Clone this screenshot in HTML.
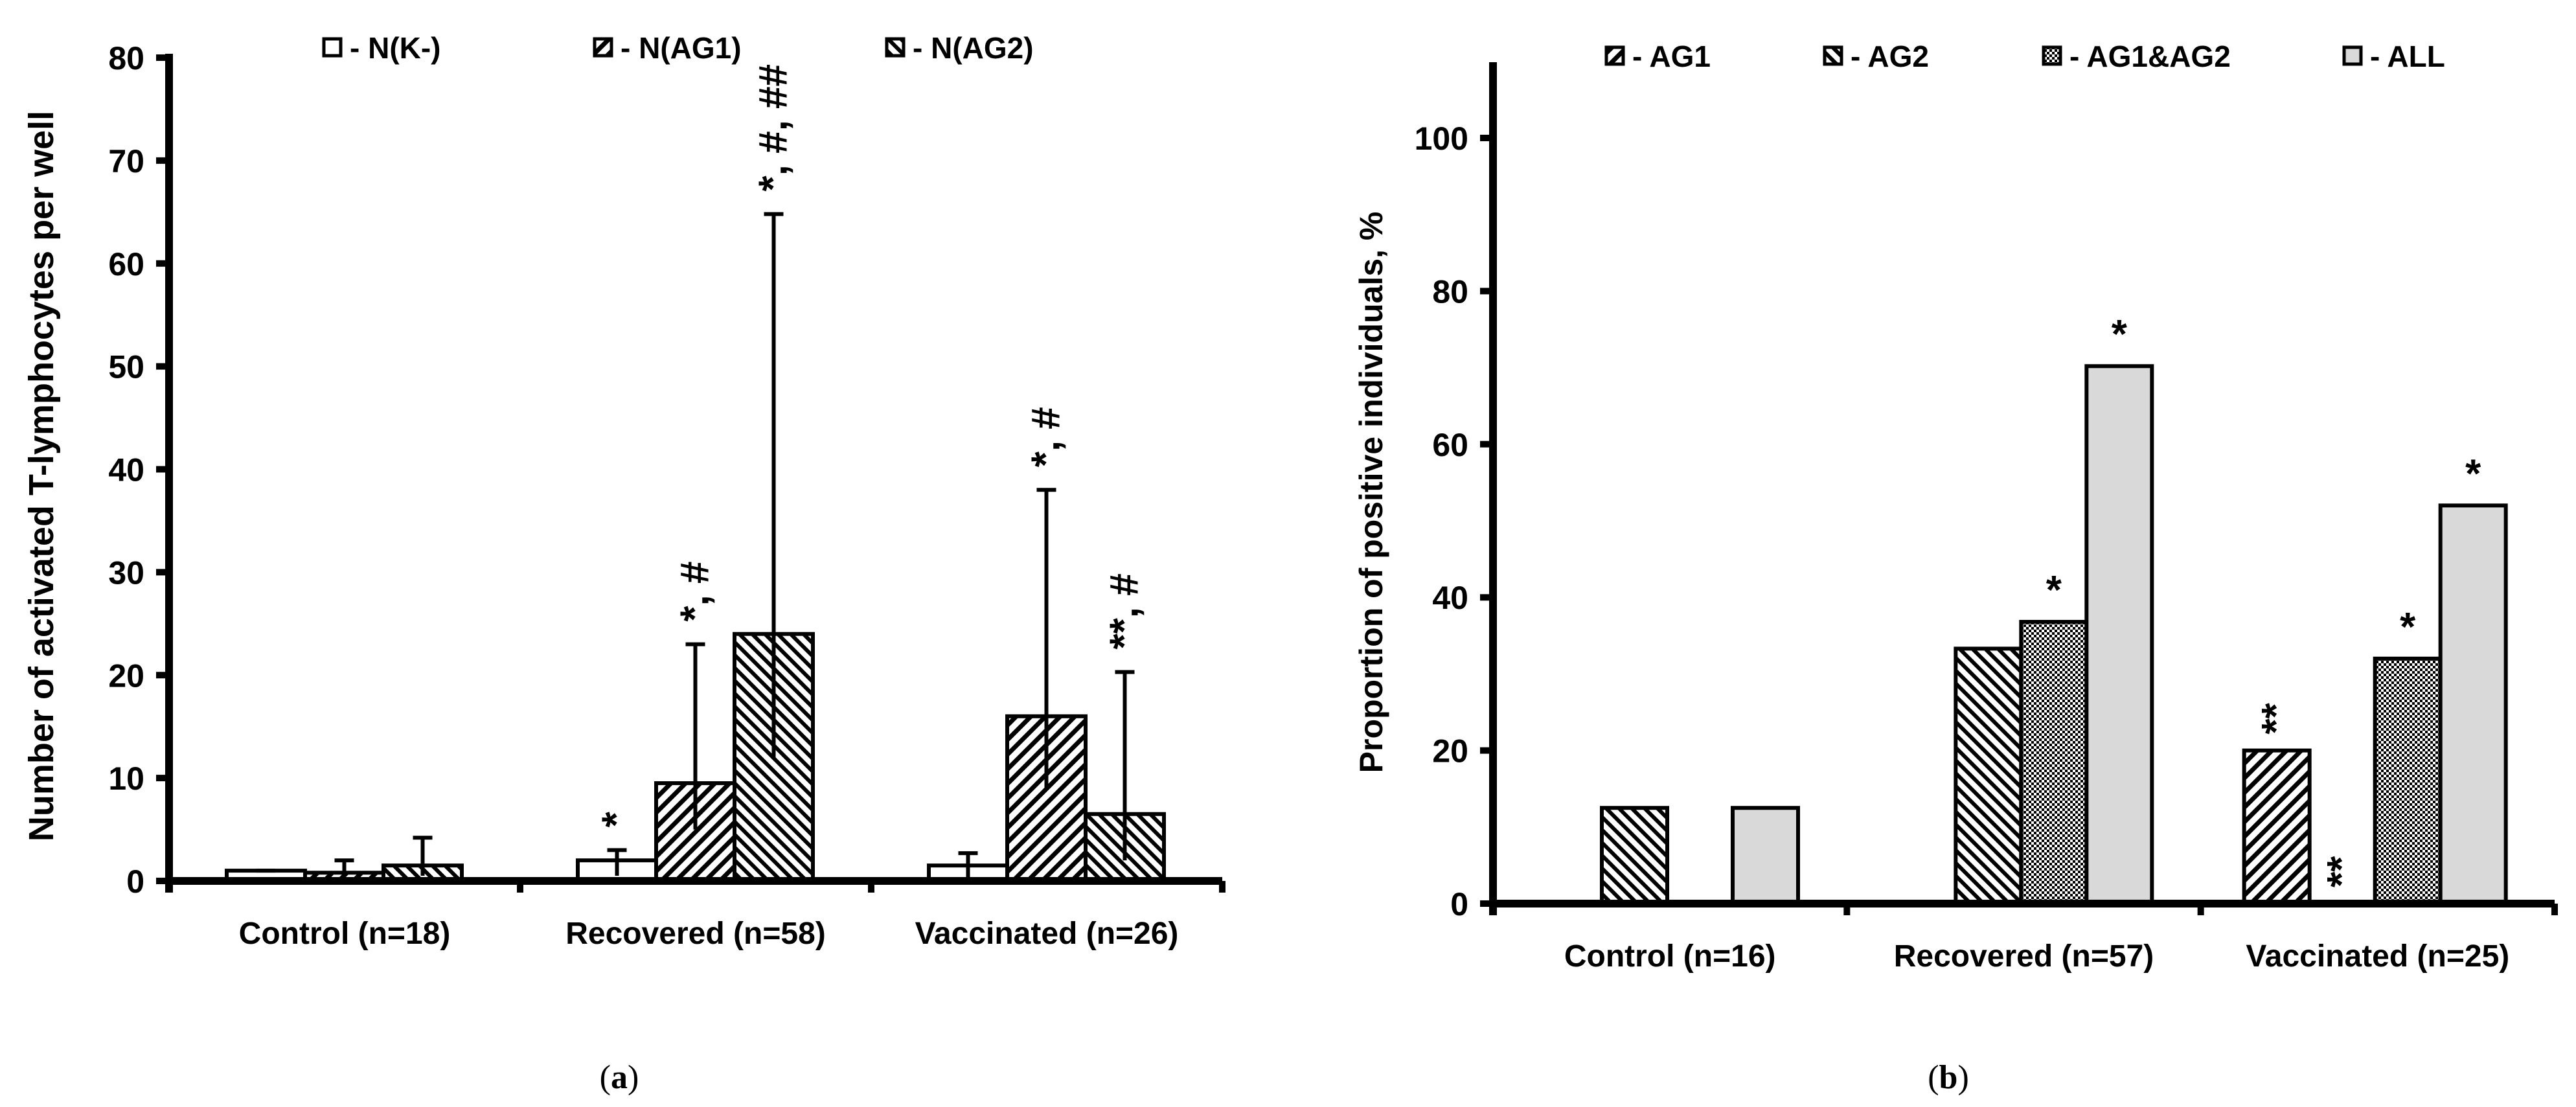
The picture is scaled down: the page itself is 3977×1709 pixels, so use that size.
<!DOCTYPE html>
<html><head><meta charset="utf-8">
<style>
html,body{margin:0;padding:0;background:#fff;}
svg{display:block;}
text{font-family:"Liberation Sans Narrow","Liberation Sans",sans-serif;font-weight:bold;fill:#000;}
.serif{font-family:"Liberation Serif",serif;font-weight:normal;}
</style></head>
<body>
<svg id="fig" width="3977" height="1709" viewBox="0 0 3977 1709" xmlns="http://www.w3.org/2000/svg">
<defs>
<pattern id="pFwd" patternUnits="userSpaceOnUse" width="16" height="16" patternTransform="rotate(45)"><rect width="16" height="16" fill="#fff"/><rect width="7" height="16" fill="#000"/></pattern>
<pattern id="pBack" patternUnits="userSpaceOnUse" width="14" height="14" patternTransform="rotate(-45)"><rect width="14" height="14" fill="#fff"/><rect width="6" height="14" fill="#000"/></pattern>
<pattern id="pCheck" patternUnits="userSpaceOnUse" width="8" height="8"><rect width="8" height="8" fill="#fff"/><rect width="4" height="4" fill="#000"/><rect x="4" y="4" width="4" height="4" fill="#000"/></pattern>
</defs>
<g id="chartA"></g>
<g id="chartB"></g>
<text class="serif" x="956" y="1680" font-size="52" text-anchor="middle">(<tspan font-weight="bold">a</tspan>)</text>
<text class="serif" x="3008" y="1680" font-size="52" text-anchor="middle">(<tspan font-weight="bold">b</tspan>)</text>
</svg>
<script>
// ---- Chart A data ----
const catsA = ["Control (n=18)", "Recovered (n=58)", "Vaccinated (n=26)"];
const seriesA = ["- N(K-)", "- N(AG1)", "- N(AG2)"];
const valsK = [1, 2, 1.5];
const valsAG1a = [0.8, 9.5, 16];
const valsAG2a = [1.5, 24, 6.5];
const errHiK = [1, 3, 2.7];
const errHiAG1a = [2, 23, 38];
const errHiAG2a = [4.2, 64.8, 20.3];
const errLoK = [1, 0.5, 0.3];
const errLoAG1a = [0.5, 5, 9];
const errLoAG2a = [0.5, 12, 2];
const annotK = ["", "*", ""];
const annotAG1a = ["", "*, #", "*, #"];
const annotAG2a = ["", "*, #, ##", "**, #"];
const ticksA = [0, 10, 20, 30, 40, 50, 60, 70, 80];

// ---- Chart B data ----
const catsB = ["Control (n=16)", "Recovered (n=57)", "Vaccinated (n=25)"];
const seriesB = ["- AG1", "- AG2", "- AG1&AG2", "- ALL"];
const valsAG1b = [0, 0, 20];
const valsAG2b = [12.5, 33.3, 0];
const valsBoth = [0, 36.8, 32];
const valsAll = [12.5, 70.2, 52];
const annotAG1b = ["", "", "**"];
const annotAG2b = ["", "", "**"];
const annotBoth = ["", "*", "*"];
const annotAll = ["", "*", "*"];
const ticksB = [0, 20, 40, 60, 80, 100];

const NS = "http://www.w3.org/2000/svg";
function mk(parent, tag, attrs, txt){
  const e = document.createElementNS(NS, tag);
  for (const k in attrs) e.setAttribute(k, attrs[k]);
  if (txt !== undefined) e.textContent = txt;
  parent.appendChild(e);
  return e;
}

// ===== Chart A =====
(function(){
  const g = document.getElementById('chartA');
  const x0 = 261, x1 = 1887, yBase = 1360, yTop = 89, vMax = 80;
  const y = v => yBase - (v / vMax) * (yBase - yTop);
  const catW = (x1 - x0) / catsA.length;
  const barW = 121, off = 89;
  const fills = ["#fff", "url(#pFwd)", "url(#pBack)"];
  const vals = [valsK, valsAG1a, valsAG2a];
  const hi = [errHiK, errHiAG1a, errHiAG2a];
  const lo = [errLoK, errLoAG1a, errLoAG2a];
  const ann = [annotK, annotAG1a, annotAG2a];
  let e = mk(g, 'line', {x1: x0, y1: yTop - 6, x2: x0, y2: yBase + 18, stroke: '#000', 'stroke-width': 12});
  
  
  ticksA.forEach(t => {
    const tl = mk(g, 'line', {x1: x0 - 20, y1: y(t), x2: x0, y2: y(t), stroke: '#000', 'stroke-width': 10});
    
    
    const tx = mk(g, 'text', {x: x0 - 38, y: y(t) + 18, 'font-size': 50, 'text-anchor': 'end'}, String(t));
    
    
  });
  catsA.forEach((c, i) => {
    const cx = x0 + catW * i;
    for (let s = 0; s < 3; s++) {
      const bx = cx + off + barW * s;
      const v = vals[s][i];
      const r = mk(g, 'rect', {x: bx, y: y(v), width: barW, height: yBase - y(v), fill: fills[s], stroke: '#000', 'stroke-width': 6});
      
      
      const mx = bx + barW / 2;
      const eb = mk(g, 'path', {d: `M${mx},${y(hi[s][i])}V${y(lo[s][i])}M${mx - 15},${y(hi[s][i])}H${mx + 15}`, stroke: '#000', 'stroke-width': 6, fill: 'none'});
      
      
      if (ann[s][i]) {
        const ay = y(hi[s][i]) - 35;
        const at = mk(g, 'text', {x: 0, y: 0, 'font-size': 62, 'text-anchor': 'start', transform: `translate(${mx + 20},${ay}) rotate(-90)`}, ann[s][i]);
        
        
      }
    }
    const lb = mk(g, 'text', {x: cx + catW / 2, y: 1457, 'font-size': 48, 'text-anchor': 'middle'}, c);
    
    
  });
  e = mk(g, 'line', {x1: x0 - 6, y1: yBase, x2: x1, y2: yBase, stroke: '#000', 'stroke-width': 12});
  
  
  for (let i = 0; i <= catsA.length; i++) {
    const tk = mk(g, 'line', {x1: x0 + catW * i, y1: yBase, x2: x0 + catW * i, y2: yBase + 18, stroke: '#000', 'stroke-width': 10});
    
    
  }
  const yt = mk(g, 'text', {x: 0, y: 0, 'font-size': 54, 'text-anchor': 'middle', transform: 'translate(82,735) rotate(-90)'}, 'Number of activated T-lymphocytes per well');
  
  
  const legX = [500, 918, 1369];
  seriesA.forEach((s, i) => {
    const sq = mk(g, 'rect', {x: legX[i], y: 60, width: 26, height: 26, fill: fills[i], stroke: '#000', 'stroke-width': 5});
    
    
    const lt = mk(g, 'text', {x: legX[i] + 40, y: 90, 'font-size': 46}, s);
    
    
  });
})();

// ===== Chart B =====
(function(){
  const g = document.getElementById('chartB');
  const x0 = 2305, x1 = 3944, yBase = 1395, vMax = 100, yAt100 = 213, yTop = 96;
  const y = v => yBase - (v / vMax) * (yBase - yAt100);
  const catW = (x1 - x0) / catsB.length;
  const barW = 101, off = 67;
  const fills = ["url(#pFwd)", "url(#pBack)", "url(#pCheck)", "#d9d9d9"];
  const vals = [valsAG1b, valsAG2b, valsBoth, valsAll];
  const ann = [annotAG1b, annotAG2b, annotBoth, annotAll];
  let e = mk(g, 'line', {x1: x0, y1: yTop, x2: x0, y2: yBase + 18, stroke: '#000', 'stroke-width': 12});
  
  
  ticksB.forEach(t => {
    const tl = mk(g, 'line', {x1: x0 - 20, y1: y(t), x2: x0, y2: y(t), stroke: '#000', 'stroke-width': 10});
    
    
    const tx = mk(g, 'text', {x: x0 - 38, y: y(t) + 18, 'font-size': 50, 'text-anchor': 'end'}, String(t));
    
    
  });
  catsB.forEach((c, i) => {
    const cx = x0 + catW * i;
    for (let s = 0; s < 4; s++) {
      const bx = cx + off + barW * s;
      const v = vals[s][i];
      const mx = bx + barW / 2;
      if (v > 0) {
        const r = mk(g, 'rect', {x: bx, y: y(v), width: barW, height: yBase - y(v), fill: fills[s], stroke: '#000', 'stroke-width': 6});
        
        
      }
      if (ann[s][i]) {
        let at;
        if (ann[s][i] === '**') {
          at = mk(g, 'text', {x: 0, y: 0, 'font-size': 62, 'text-anchor': 'start', transform: `translate(${mx + 20},${y(v) - 25}) rotate(-90)`}, ann[s][i]);
        } else {
          at = mk(g, 'text', {x: mx, y: y(v) - 28, 'font-size': 62, 'text-anchor': 'middle'}, ann[s][i]);
        }
        
        
      }
    }
    const lb = mk(g, 'text', {x: cx + catW / 2, y: 1492, 'font-size': 48, 'text-anchor': 'middle'}, c);
    
    
  });
  e = mk(g, 'line', {x1: x0 - 6, y1: yBase, x2: x1, y2: yBase, stroke: '#000', 'stroke-width': 12});
  
  
  for (let i = 0; i <= catsB.length; i++) {
    const tk = mk(g, 'line', {x1: x0 + catW * i, y1: yBase, x2: x0 + catW * i, y2: yBase + 18, stroke: '#000', 'stroke-width': 10});
    
    
  }
  const yt = mk(g, 'text', {x: 0, y: 0, 'font-size': 50, 'text-anchor': 'middle', transform: 'translate(2134,760) rotate(-90)'}, 'Proportion of positive individuals,  %');
  
  
  const legX = [2480, 2817, 3155, 3619];
  seriesB.forEach((s, i) => {
    const sq = mk(g, 'rect', {x: legX[i], y: 73, width: 26, height: 26, fill: fills[i], stroke: '#000', 'stroke-width': 5});
    
    
    const lt = mk(g, 'text', {x: legX[i] + 40, y: 103, 'font-size': 46}, s);
    
    
  });
})();
</script>
</body></html>
